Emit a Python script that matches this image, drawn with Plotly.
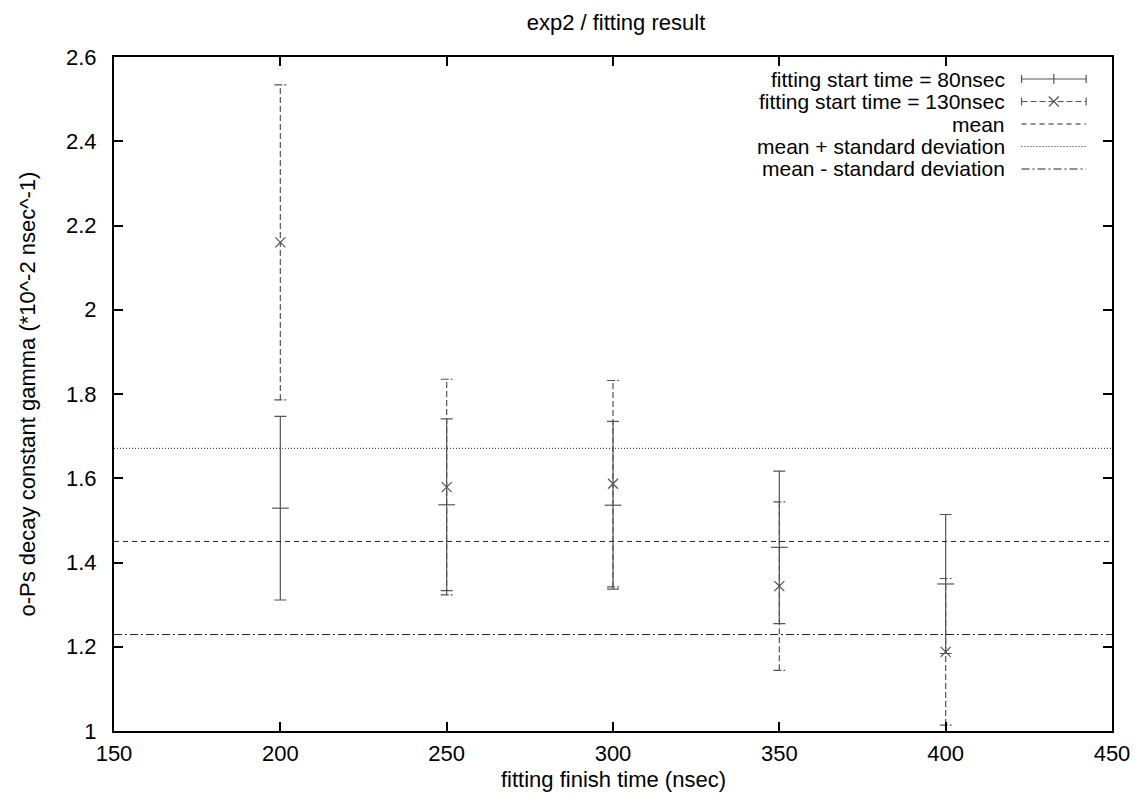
import plotly.graph_objects as go

# fitting finish time (nsec)
finish_time = [200, 250, 300, 350, 400]

# decay constant, fitting start time = 80 nsec
gamma_80 = [1.529, 1.537, 1.536, 1.436, 1.349]
err_80 = [0.218, 0.204, 0.199, 0.181, 0.165]

# decay constant, fitting start time = 130 nsec
gamma_130 = [2.160, 1.579, 1.587, 1.344, 1.188]
err_130 = [0.374, 0.256, 0.245, 0.200, 0.174]

# mean and standard deviation
mean_value = 1.450
std_dev = 0.221

x_ticks = [150, 200, 250, 300, 350, 400, 450]
y_ticks = [1.0, 1.2, 1.4, 1.6, 1.8, 2.0, 2.2, 2.4, 2.6]

W, H = 1142, 800
ML, MR, MT, MB = 114, 24, 57, 69
PW, PH = W - ML - MR, H - MT - MB
XR = [x_ticks[0], x_ticks[-1]]
YR = [y_ticks[0], y_ticks[-1]]

FONT = "Liberation Sans, Arial, Helvetica, sans-serif"
FS = 22
KEY_FS = 21
BAR = "#555555"


def px_x(px):
    return (px - ML) / PW


def px_y(py):
    return (H - MB - py) / PH


fig = go.Figure()

# start time 80 nsec: solid error bars with "+" point
fig.add_trace(go.Scatter(
    x=finish_time, y=gamma_80, mode="markers",
    marker=dict(symbol="line-ew", size=12, color=BAR,
                line=dict(width=1.2, color=BAR)),
    error_y=dict(type="data", array=err_80, visible=True,
                 thickness=1.2, width=6, color=BAR),
    showlegend=False, hoverinfo="x+y",
))

# start time 130 nsec: dashed error bars with "x" point
cap_half = 6 * (XR[1] - XR[0]) / PW
vx, vy, cx, cy = [], [], [], []
for x, y, e in zip(finish_time, gamma_130, err_130):
    vx += [x, x, None]
    vy += [y - e, y + e, None]
    for yy in (y - e, y + e):
        cx += [x - cap_half, x + cap_half, None]
        cy += [yy, yy, None]
fig.add_trace(go.Scatter(x=vx, y=vy, mode="lines",
                         line=dict(color=BAR, width=1.2, dash="6px,3px"),
                         showlegend=False, hoverinfo="skip"))
fig.add_trace(go.Scatter(x=cx, y=cy, mode="lines",
                         line=dict(color=BAR, width=1.2, dash="8px,2px"),
                         showlegend=False, hoverinfo="skip"))
fig.add_trace(go.Scatter(
    x=finish_time, y=gamma_130, mode="markers",
    marker=dict(symbol="x-thin", size=10, color=BAR,
                line=dict(width=1.2, color=BAR)),
    showlegend=False, hoverinfo="x+y",
))

# mean and mean +/- standard deviation
ref_lines = [
    (mean_value, "5px,4px"),
    (mean_value + std_dev, "1px,2px"),
    (mean_value - std_dev, "8px,3px,2px,3px"),
]
for val, dash in ref_lines:
    fig.add_trace(go.Scatter(x=XR, y=[val, val], mode="lines",
                             line=dict(color="#222222", width=1, dash=dash),
                             showlegend=False, hoverinfo="skip"))

# key (text right, sample to its right)
key_labels = [
    "fitting start time = 80nsec",
    "fitting start time = 130nsec",
    "mean",
    "mean + standard deviation",
    "mean - standard deviation",
]
key_rows = [79, 101.5, 124, 146.5, 169]
key_text_right = 1012
s0, s1 = 1027, 1092
smid = (s0 + s1) / 2
key_dash = ["solid", "6px,3px", "5px,4px", "1px,2px", "8px,3px,2px,3px"]

shapes = []
annotations = []
for i, (lab, ry) in enumerate(zip(key_labels, key_rows)):
    annotations.append(dict(
        text=lab, x=px_x(key_text_right), y=px_y(ry), xref="paper", yref="paper",
        xanchor="right", yanchor="middle", showarrow=False,
        font=dict(family=FONT, size=KEY_FS, color="black"),
    ))
    col = BAR if i < 2 else "#222222"
    shapes.append(dict(type="line", xref="paper", yref="paper",
                       x0=px_x(s0), x1=px_x(s1), y0=px_y(ry), y1=px_y(ry),
                       line=dict(color=col, width=1.2 if i < 2 else 1,
                                 dash=key_dash[i])))
    if i < 2:
        for sx in (s0, s1):
            shapes.append(dict(type="line", xref="paper", yref="paper",
                               x0=px_x(sx), x1=px_x(sx),
                               y0=px_y(ry - 4), y1=px_y(ry + 4),
                               line=dict(color=col, width=1.2)))
    if i == 0:
        shapes.append(dict(type="line", xref="paper", yref="paper",
                           x0=px_x(smid), x1=px_x(smid),
                           y0=px_y(ry - 5), y1=px_y(ry + 5),
                           line=dict(color=col, width=1.2)))
    if i == 1:
        for d in (1, -1):
            shapes.append(dict(type="line", xref="paper", yref="paper",
                               x0=px_x(smid - 5), x1=px_x(smid + 5),
                               y0=px_y(ry - 5 * d), y1=px_y(ry + 5 * d),
                               line=dict(color=col, width=1.2)))

# axis titles
annotations.append(dict(
    text="fitting finish time (nsec)", x=0.5, y=px_y(779),
    xref="paper", yref="paper", xanchor="center", yanchor="middle",
    showarrow=False, font=dict(family=FONT, size=FS, color="black"),
))
annotations.append(dict(
    text="o-Ps decay constant gamma (*10^-2 nsec^-1)", x=px_x(26), y=0.5,
    xref="paper", yref="paper", xanchor="center", yanchor="middle",
    textangle=-90, showarrow=False,
    font=dict(family=FONT, size=FS, color="black"),
))

axis_common = dict(
    showgrid=False, zeroline=False, showline=True, linecolor="black",
    linewidth=2, mirror="ticks", ticks="inside", ticklen=9, tickwidth=2,
    tickcolor="black", tickfont=dict(family=FONT, size=FS, color="black"),
)

fig.update_layout(
    width=W, height=H,
    margin=dict(l=ML, r=MR, t=MT, b=MB, pad=0),
    paper_bgcolor="white", plot_bgcolor="white",
    title=dict(text="exp2 / fitting result", x=0.5 * (ML + ML + PW) / W,
               xanchor="center", y=1 - 22 / H, yanchor="middle",
               yref="container",
               font=dict(family=FONT, size=FS, color="black")),
    xaxis=dict(range=XR, tickvals=x_ticks, ticklabelstandoff=2,
               **axis_common),
    yaxis=dict(range=YR, tickvals=y_ticks,
               ticktext=[f"{v:g}" for v in y_ticks], ticklabelstandoff=11,
               **axis_common),
    shapes=shapes,
    annotations=annotations,
    showlegend=False,
)

fig.write_html("out.html")
